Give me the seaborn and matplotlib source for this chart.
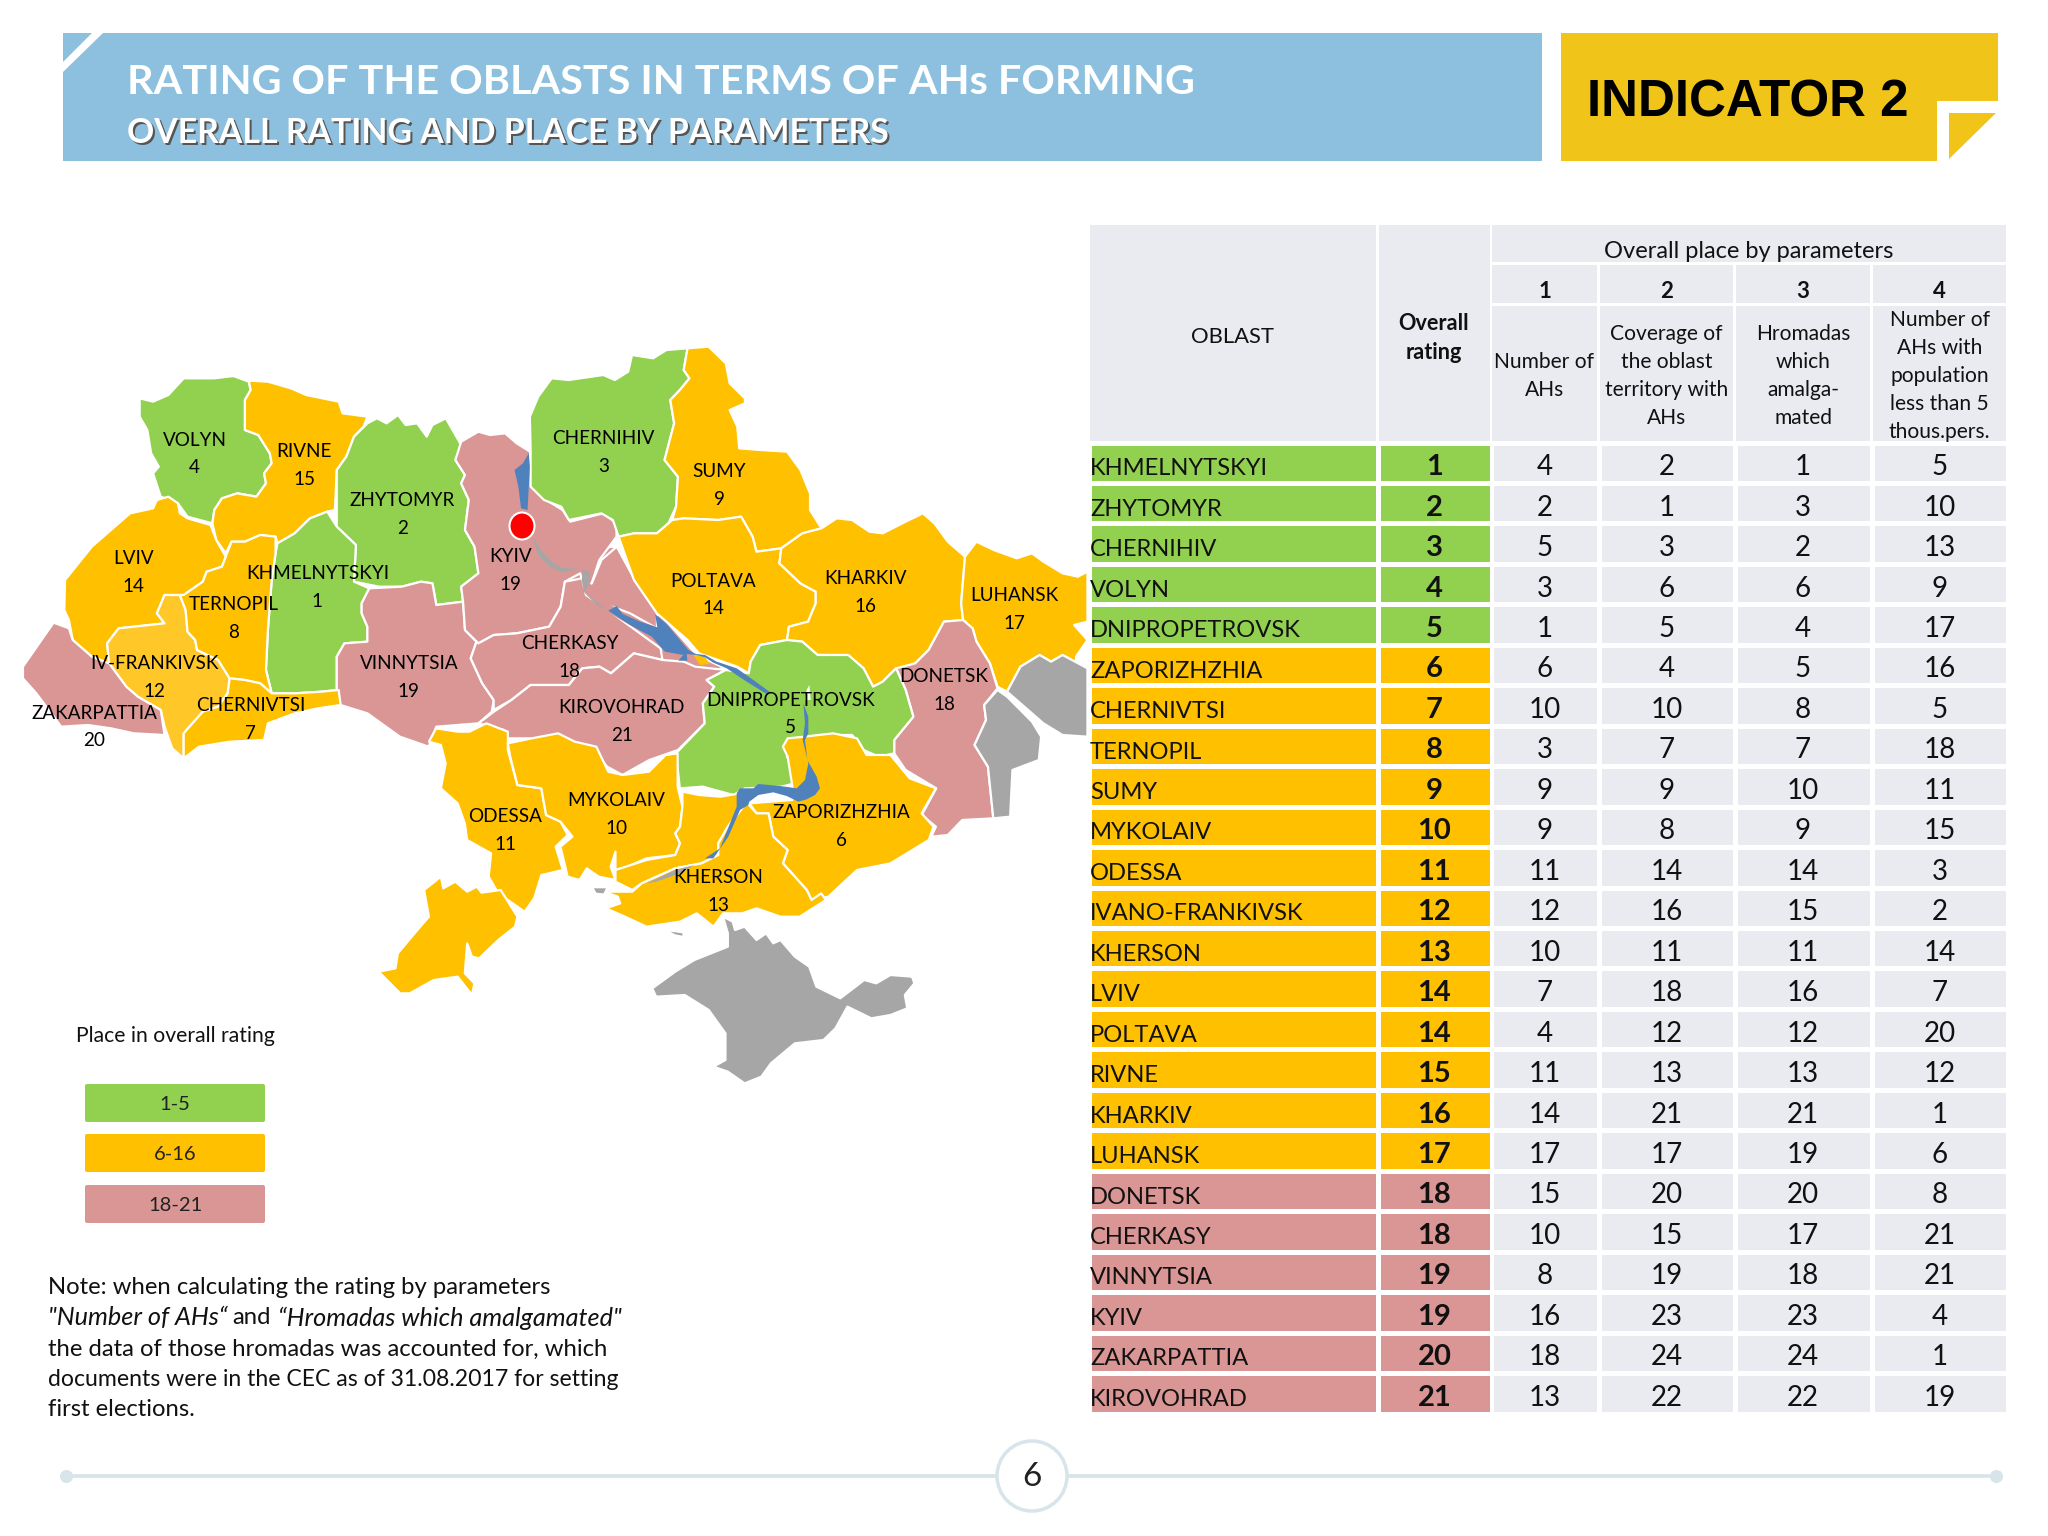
import matplotlib
matplotlib.use("Agg")
import numpy as np
import pandas as pd
import matplotlib.pyplot as plt
import seaborn as sns
from matplotlib.colors import ListedColormap
from matplotlib.patches import Polygon, Rectangle, FancyBboxPatch, Circle, Ellipse

# TABLE DATA
oblasts = ["KHMELNYTSKYI", "ZHYTOMYR", "CHERNIHIV", "VOLYN", "DNIPROPETROVSK", "ZAPORIZHZHIA",
           "CHERNIVTSI", "TERNOPIL", "SUMY", "MYKOLAIV", "ODESSA", "IVANO-FRANKIVSK", "KHERSON",
           "LVIV", "POLTAVA", "RIVNE", "KHARKIV", "LUHANSK", "DONETSK", "CHERKASY", "VINNYTSIA",
           "KYIV", "ZAKARPATTIA", "KIROVOHRAD"]
overall = [1, 2, 3, 4, 5, 6, 7, 8, 9, 10, 11, 12, 13, 14, 14, 15, 16, 17, 18, 18, 19, 19, 20, 21]
param_1 = [4, 2, 5, 3, 1, 6, 10, 3, 9, 9, 11, 12, 10, 7, 4, 11, 14, 17, 15, 10, 8, 16, 18, 13]
param_2 = [2, 1, 3, 6, 5, 4, 10, 7, 9, 8, 14, 16, 11, 18, 12, 13, 21, 17, 20, 15, 19, 23, 24, 22]
param_3 = [1, 3, 2, 6, 4, 5, 8, 7, 10, 9, 14, 15, 11, 16, 12, 13, 21, 19, 20, 17, 18, 23, 24, 22]
param_4 = [5, 10, 13, 9, 17, 16, 5, 18, 11, 15, 3, 2, 14, 7, 20, 12, 1, 6, 8, 21, 21, 4, 1, 19]

# MAP LABELS
map_names = ["VOLYN", "RIVNE", "ZHYTOMYR", "LVIV", "KHMELNYTSKYI", "TERNOPIL", "KYIV", "CHERNIHIV",
             "SUMY", "POLTAVA", "KHARKIV", "LUHANSK", "CHERKASY", "VINNYTSIA", "IV-FRANKIVSK",
             "ZAKARPATTIA", "CHERNIVTSI", "KIROVOHRAD", "DNIPROPETROVSK", "DONETSK", "ODESSA",
             "MYKOLAIV", "ZAPORIZHZHIA", "KHERSON"]
map_places = [4, 15, 2, 14, 1, 8, 19, 3, 9, 14, 16, 17, 18, 19, 12, 20, 7, 21, 5, 18, 11, 10, 6, 13]
map_label_x = [149, 233, 308, 102, 243, 179, 391, 462, 551, 546, 663, 777, 436, 313, 118, 72, 192, 476,
               605, 723, 387, 472, 644, 550]
map_label_y = [337, 346, 383, 428, 439, 463, 426, 336, 361, 445, 443, 456, 493, 508, 508, 546, 540, 542,
               536, 518, 625, 613, 622, 672]

legend_labels = ["1-5", "6-16", "18-21"]

GREEN = "#92D050"
ORANGE = "#FFC000"
PINK = "#D99694"
GREY = "#A6A6A6"
RIVER = "#4F81BD"
CELL = "#E9EBF1"

def crop_a(pts):
    return [(x / 2.613, 320 + y / 3) for x, y in pts]

def crop_b(pts):
    return [(500 + x / 2.613, 320 + y / 3) for x, y in pts]

def crop_c(pts):
    return [(350 + x / 2.0907, 700 + y / 3) for x, y in pts]

def crop_d(pts):
    return [(540 + x / 3, 540 + y / 3) for x, y in pts]

volyn = crop_a([(365,235),(400,245),(440,225),(480,175),(560,175),(610,168),(650,185),(655,210),(640,240),(640,330),(675,345),(705,400),(710,430),(690,460),(695,490),(670,530),(620,520),(580,535),(560,570),(555,610),(490,590),(465,550),(420,530),(400,460),(415,440),(395,400),(385,330),(365,290)])
rivne = crop_a([(650,182),(700,185),(760,205),(800,225),(885,245),(895,280),(960,290),(950,320),(925,350),(905,410),(880,450),(875,570),(855,575),(810,595),(770,640),(725,670),(720,650),(680,645),(640,665),(605,665),(590,700),(565,660),(555,610),(560,570),(580,535),(620,520),(670,530),(695,490),(690,460),(710,430),(705,400),(675,345),(640,330),(640,240),(655,210)])
zhytomyr = crop_a([(960,310),(985,295),(1010,310),(1040,285),(1060,315),(1090,310),(1115,350),(1130,315),(1165,295),(1190,345),(1205,375),(1190,420),(1215,465),(1205,490),(1225,540),(1215,630),(1240,680),(1250,760),(1205,800),(1210,845),(1140,855),(1130,790),(1100,785),(1050,800),(990,800),(925,785),(930,675),(880,620),(880,450),(905,410),(925,350)])
khmelnytskyi = crop_a([(725,670),(770,640),(810,595),(855,575),(880,620),(930,675),(925,785),(965,805),(945,850),(945,880),(960,920),(960,965),(900,970),(880,1010),(880,1110),(840,1115),(770,1120),(710,1120),(695,1050),(700,930),(710,780),(720,700)])
vinnytsia = crop_a([(965,805),(1050,800),(1100,785),(1130,790),(1140,855),(1210,845),(1215,930),(1245,965),(1230,1015),(1260,1090),(1290,1140),(1285,1175),(1250,1210),(1140,1220),(1120,1280),(1045,1250),(960,1180),(890,1155),(880,1110),(880,1010),(900,970),(960,965),(960,920),(945,880),(945,850)])
kyiv = crop_a([(1205,365),(1250,335),(1280,345),(1320,340),(1350,370),(1385,395),(1390,500),(1420,535),(1470,570),(1490,605),(1576,580),(1611,610),(1611,650),(1566,720),(1546,790),(1525,800),(1516,760),(1476,785),(1465,860),(1435,920),(1350,940),(1290,945),(1250,970),(1215,930),(1210,845),(1205,800),(1250,760),(1240,680),(1215,630),(1225,540),(1205,490),(1215,465),(1190,420)])
cherkasy = crop_a([(1250,970),(1290,945),(1350,940),(1435,920),(1465,860),(1476,785),(1521,775),(1531,825),(1576,860),(1600,880),(1726,985),(1731,1020),(1656,1000),(1596,1060),(1566,1040),(1521,1045),(1486,1095),(1386,1095),(1336,1140),(1290,1170),(1290,1140),(1260,1090),(1230,1015),(1245,965)])
cherkasy_east = crop_b([(305,680),(350,775),(410,860),(410,925),(340,880),(270,850),(225,800),(240,790),(265,720)])
lviv = crop_a([(400,565),(410,540),(440,530),(465,550),(470,580),(490,595),(550,615),(565,660),(590,710),(580,740),(540,755),(530,785),(480,825),(430,825),(410,880),(430,910),(310,925),(280,970),(285,1030),(240,1010),(190,960),(180,900),(168,870),(170,780),(240,680),(340,580)])
frankivsk = crop_a([(430,825),(470,825),(485,870),(490,935),(510,960),(515,990),(570,1020),(600,1075),(595,1120),(570,1160),(530,1175),(480,1240),(480,1315),(450,1285),(430,1220),(420,1170),(360,1130),(330,1100),(285,1030),(280,970),(310,925),(430,910),(410,880)])
ternopil = crop_a([(605,665),(640,665),(680,645),(720,650),(720,700),(710,780),(700,930),(695,1050),(710,1120),(680,1090),(640,1080),(600,1075),(570,1020),(515,990),(510,960),(490,935),(485,870),(470,825),(480,825),(530,785),(540,755),(580,740),(590,710)])
chernivtsi = crop_a([(600,1075),(640,1080),(680,1090),(710,1120),(770,1120),(840,1115),(885,1110),(890,1155),(830,1165),(770,1180),(700,1210),(690,1260),(600,1265),(520,1280),(480,1315),(480,1240),(530,1175),(570,1160),(595,1120)])
zakarpattia = crop_a([(140,908),(180,925),(190,960),(240,1010),(285,1030),(330,1100),(360,1130),(420,1170),(430,1245),(350,1240),(290,1225),(230,1215),(160,1220),(95,1120),(60,1075),(60,1040)])
kirovohrad = crop_b([(-16,1175),(30,1140),(80,1095),(180,1095),(215,1045),(260,1040),(290,1060),(350,1000),(425,1020),(480,1025),(510,1040),(590,1050),(540,1080),(560,1100),(530,1150),(535,1210),(465,1290),(390,1320),(320,1365),(280,1340),(250,1300),(180,1270),(130,1265),(75,1255),(20,1255),(10,1230),(-56,1210)])
chernihiv = crop_b([(80,390),(78,290),(100,230),(135,175),(180,180),(270,165),(300,180),(335,155),(345,105),(400,115),(435,90),(490,85),(480,150),(495,175),(470,210),(445,240),(455,310),(430,420),(465,470),(460,560),(440,610),(410,640),(350,640),(310,650),(295,600),(265,580),(180,600),(160,560),(115,540),(80,500)])
sumy = crop_b([(490,85),(545,80),(590,130),(600,190),(640,235),(640,250),(600,270),(620,320),(625,385),(680,390),(750,395),(785,450),(810,520),(810,570),(840,625),(790,640),(735,685),(670,695),(660,650),(630,590),(570,600),(480,595),(450,600),(460,560),(465,470),(430,420),(455,310),(445,240),(470,210),(495,175),(480,150)])
poltava = crop_b([(310,650),(350,640),(410,640),(440,610),(450,600),(480,595),(570,600),(630,590),(660,650),(670,695),(735,685),(730,730),(785,790),(825,815),(825,850),(805,905),(755,920),(750,960),(680,975),(655,1025),(650,1060),(620,1040),(520,1000),(490,960),(410,880),(350,780)])
kharkiv = crop_b([(735,685),(790,640),(840,625),(880,595),(920,600),(965,635),(1000,640),(1060,605),(1105,580),(1135,610),(1170,665),(1215,710),(1205,850),(1210,900),(1160,905),(1120,990),(1085,1030),(1030,1050),(1000,1085),(975,1100),(950,1045),(910,1005),(830,1005),(790,965),(750,960),(755,920),(805,905),(825,850),(825,815),(785,790),(730,730)])
luhansk = crop_b([(1215,710),(1245,665),(1290,690),(1350,715),(1390,700),(1420,725),(1470,760),(1510,770),(1535,755),(1535,905),(1500,915),(1535,960),(1505,1010),(1505,1030),(1535,1045),(1470,1005),(1440,1025),(1410,1005),(1360,1040),(1325,1115),(1300,1100),(1280,1030),(1245,965),(1235,925),(1210,900),(1205,850)])
luhansk_occupied = crop_b([(1535,1045),(1470,1005),(1440,1025),(1410,1005),(1360,1040),(1325,1115),(1420,1210),(1470,1245),(1535,1250)])
donetsk_occupied = crop_b([(1300,1110),(1265,1155),(1270,1200),(1240,1275),(1275,1340),(1289,1495),(1333,1490),(1339,1350),(1408,1320),(1414,1250),(1390,1205),(1325,1130)])
donetsk = crop_b([(1160,905),(1210,900),(1235,925),(1245,965),(1280,1030),(1300,1105),(1265,1155),(1270,1200),(1240,1275),(1275,1340),(1289,1495),(1208,1500),(1170,1545),(1127,1550),(1139,1520),(1102,1485),(1140,1405),(1060,1350),(1030,1300),(1030,1260),(1080,1190),(1060,1110),(1035,1045),(1085,1030),(1120,990)])
dnipro = crop_b([(650,1060),(655,1025),(680,975),(750,960),(790,965),(830,1005),(910,1005),(950,1045),(975,1100),(1000,1085),(1035,1045),(1060,1110),(1080,1190),(1030,1260),(1030,1300),(990,1310),(950,1290),(920,1245),(830,1245),(750,1270),(750,1310),(770,1350),(770,1390),(735,1400),(640,1405),(610,1425),(530,1400),(470,1405),(460,1300),(535,1210),(530,1150),(560,1100),(540,1080),(590,1050)])
zaporizhzhia = crop_c([(915,115),(950,110),(1010,100),(1060,115),(1080,165),(1130,165),(1170,235),(1225,265),(1195,340),(1220,380),(1210,420),(1130,490),(1060,510),(1000,590),(965,600),(955,570),(905,490),(915,450),(885,410),(875,340),(850,340),(835,310),(925,300),(925,260),(915,170),(905,140)])
odessa = crop_c([(180,85),(225,95),(250,95),(285,70),(330,95),(330,150),(350,255),(400,265),(410,345),(440,365),(455,405),(430,440),(445,510),(400,525),(385,595),(365,635),(310,580),(290,530),(295,460),(245,420),(240,370),(225,310),(190,265),(200,190),(190,135),(165,125)])
bessarabia = crop_c([(190,530),(195,565),(220,545),(245,575),(265,560),(275,578),(315,570),(350,650),(345,680),(310,720),(270,775),(255,770),(245,730),(240,820),(260,850),(255,885),(225,830),(175,840),(125,880),(105,880),(60,815),(95,805),(100,760),(135,700),(165,650),(155,570)])
mykolaiv = crop_c([(330,130),(380,115),(435,100),(470,125),(515,140),(540,215),(570,225),(625,215),(660,165),(685,160),(685,260),(695,320),(690,380),(680,400),(690,430),(680,465),(620,475),(580,500),(555,510),(555,455),(545,500),(555,540),(520,530),(495,505),(480,540),(455,530),(440,440),(465,410),(440,365),(410,345),(400,265),(350,255),(335,170)])
kherson_west = crop_c([(695,275),(730,285),(775,290),(815,280),(825,310),(790,380),(770,430),(770,465),(735,490),(680,505),(610,550),(590,570),(555,545),(555,510),(620,480),(680,465),(690,430),(680,400),(690,380),(695,320)])
kherson_east = crop_c([(825,300),(850,340),(875,340),(885,410),(915,450),(905,490),(955,570),(965,600),(985,580),(995,600),(940,650),(900,650),(850,625),(820,640),(780,640),(760,680),(725,640),(690,665),(620,680),(575,650),(535,625),(565,610),(560,590),(530,575),(590,575),(610,550),(680,505),(735,490),(770,465),(770,430),(790,380),(820,325)])
crimea = crop_c([(780,650),(800,665),(805,690),(825,680),(850,720),(870,700),(885,730),(900,720),(930,770),(960,800),(975,860),(1025,895),(1075,840),(1100,850),(1130,825),(1175,830),(1180,850),(1160,885),(1165,925),(1130,945),(1090,955),(1040,920),(1015,985),(990,1020),(930,1030),(880,1090),(860,1130),(825,1150),(790,1115),(760,1100),(785,1080),(785,1000),(750,930),(700,885),(640,890),(632,865),(680,815),(720,780),(790,740),(790,700)])

# pink ground under the Dnipro banks so no white gap shows beside the river
central_ground = crop_d([(0,30),(230,20),(350,210),(470,345),(555,385),(440,400),(300,340),(150,200)])

regions = [(central_ground, PINK), (volyn, GREEN), (rivne, ORANGE), (zhytomyr, GREEN), (khmelnytskyi, GREEN), (vinnytsia, PINK),
           (kyiv, PINK), (cherkasy, PINK), (cherkasy_east, PINK), (lviv, ORANGE), (frankivsk, "#FFC727"),
           (ternopil, ORANGE), (chernivtsi, ORANGE), (zakarpattia, PINK), (kirovohrad, PINK),
           (chernihiv, GREEN), (sumy, ORANGE), (poltava, ORANGE), (kharkiv, ORANGE), (luhansk, ORANGE),
           (luhansk_occupied, GREY), (donetsk, PINK), (donetsk_occupied, GREY), (dnipro, GREEN),
           (zaporizhzhia, ORANGE), (odessa, ORANGE), (bessarabia, ORANGE), (mykolaiv, ORANGE),
           (kherson_west, ORANGE), (kherson_east, ORANGE), (crimea, GREY)]

rivers = [(crop_d([(125,150),(200,215),(330,290),(375,335),(350,262),(270,230),(190,180),(150,130)]), PINK),
          (crop_b([(75,400),(78,440),(72,570),(55,565),(48,500),(38,450),(60,430)]), RIVER),
          (crop_d([(0,30),(40,70),(70,85),(115,85),(70,98),(30,80),(0,50)]), GREY),
          (crop_b([(85,650),(110,695),(130,720),(100,705)]), GREY),
          (crop_d([(130,88),(150,95),(150,130),(132,155),(125,120)]), GREY),
          (crop_d([(130,155),(170,185),(192,205),(188,208),(165,190)]), GREY),
          (crop_d([(460,345),(490,345),(510,372),(480,375)]), ORANGE),
          (crop_d([(205,212),(230,198),(248,222),(300,245),(352,262),(345,222),(378,250),(445,330),(468,342),(495,345),(530,365),(590,385),(640,420),(695,460),(680,462),(620,425),(560,385),(520,368),(495,352),(470,345),(440,342),(442,362),(415,362),(430,345),(375,335),(335,290),(270,255)]), RIVER),
          (crop_d([(800,450),(808,435),(812,480),(795,480)]), "white"),
          (crop_d([(790,490),(805,530),(805,580),(795,600),(802,660),(830,710),(840,745),(825,765),(800,778),(775,785),(740,768),(700,757),(655,765),(628,785),(625,795),(600,810),(565,890),(520,955),(495,955),(540,925),(590,800),(590,760),(600,745),(640,745),(655,732),(720,738),(770,745),(795,720),(805,670),(788,600),(795,550)]), RIVER),
          (crop_c([(620,550),(680,510),(720,495),(690,520),(640,545)]), GREY),
          (crop_c([(510,565),(535,565),(530,580),(515,578)]), GREY),
          (crop_c([(670,695),(695,700),(695,707),(680,703)]), GREY)]

sns.set_theme(style="white")
plt.rcParams["font.family"] = ["Lato", "DejaVu Sans"]

W, H = 2048, 1536
DISP = 1.306
fig = plt.figure(figsize=(W / 100, H / 100), dpi=100, facecolor="white")

page = fig.add_axes([0, 0, 1, 1])
page.set_xlim(0, W)
page.set_ylim(H, 0)
page.set_axis_off()

# HEADER
page.add_patch(Rectangle((63, 33), 1479, 128, fc="#8CC0DE", ec="none"))
page.add_patch(Polygon([(92, 33), (103, 33), (63, 72), (63, 62)], fc="white", ec="none"))
page.add_patch(Polygon([(1561, 33), (1998, 33), (1998, 101), (1937, 101), (1937, 161), (1561, 161)], fc="#F0C419", ec="none"))
page.add_patch(Polygon([(1949, 113), (1996, 113), (1949, 159)], fc="#F0C419", ec="none"))
page.text(127, 82, "RATING OF THE OBLASTS IN TERMS OF AHs FORMING", color="white", fontsize=29.8,
          fontweight="bold", va="center", ha="left")
page.text(129, 135, "OVERALL RATING AND PLACE BY PARAMETERS", color="#555555", fontsize=24.3,
          fontweight="bold", va="center", ha="left")
page.text(127, 133, "OVERALL RATING AND PLACE BY PARAMETERS", color="white", fontsize=24.3,
          fontweight="bold", va="center", ha="left")
page.text(1587, 103, "INDICATOR 2", color="black", fontsize=36.8, fontweight="bold",
          family="Liberation Sans", va="center", ha="left")

# MAP
for outline, colour in regions:
    page.add_patch(Polygon(outline, fc=colour, ec="white", lw=1.6, joinstyle="round"))
for outline, colour in rivers:
    page.add_patch(Polygon(outline, fc=colour, ec="none"))
page.add_patch(Ellipse((522, 526), 25, 27, fc="#FF0000", ec="white", lw=1.5, zorder=4))

for name, place, lx, ly in zip(map_names, map_places, map_label_x, map_label_y):
    page.text(lx * DISP, ly * DISP, name, fontsize=13.6, color="black", ha="center", va="center", zorder=5)
    page.text(lx * DISP, (ly + 21.3) * DISP, str(place), fontsize=13.6, color="black", ha="center", va="center", zorder=5)

# LEGEND
page.text(76, 1036, "Place in overall rating", fontsize=15.2, color="#111111", va="center", ha="left")
for top, label, colour in zip([1084, 1134, 1185], legend_labels, [GREEN, ORANGE, PINK]):
    page.add_patch(FancyBboxPatch((85, top), 180, 38, boxstyle="round,pad=0,rounding_size=2", fc=colour, ec="none"))
    page.text(175, top + 20.5, label, fontsize=14.5, color="#222222", ha="center", va="center")

# NOTE
note_y = [1287, 1318, 1349, 1380, 1410]
note_sizes = [17.2, 17.2, 17.2, 16.6, 17.2]
note_lines = ["Note: when calculating the rating by parameters", None,
              "the data of those hromadas was accounted for, which",
              "documents were in the CEC as of 31.08.2017 for setting",
              "first elections."]
for y, line, size in zip(note_y, note_lines, note_sizes):
    if line is not None:
        page.text(48, y, line, fontsize=size, color="#111111", va="center", ha="left")

for x, piece, style, size in [(48, "\"Number of AHs“", "italic", 18.2), (232, "and", "normal", 17.2),
                              (278, "“Hromadas which amalgamated\"", "italic", 18.2)]:
    page.text(x, note_y[1], piece, fontsize=size, color="#111111", style=style, va="center", ha="left")

# FOOTER
page.plot([66, 1996], [1476, 1476], color="#D7E4EA", lw=2.6, solid_capstyle="round")
page.scatter([66, 1996], [1476, 1476], s=70, color="#D7E4EA", zorder=2)
page.add_patch(Circle((1032, 1476), 35, fc="white", ec="#D7E4EA", lw=2.5, zorder=3))
page.text(1032, 1477, "6", fontsize=24, color="#222222", ha="center", va="center", zorder=4)

# TABLE HEADER CELLS
col_left = [1090, 1379, 1492, 1600, 1736, 1873]
col_right = [1376, 1490, 1597, 1733, 1870, 2006]

def head_cell(x0, x1, y0, y1):
    page.add_patch(Rectangle((x0, y0), x1 - x0, y1 - y0, fc=CELL, ec="none"))

head_cell(col_left[0], col_right[0], 225, 441)
head_cell(col_left[1], col_right[1], 225, 441)
head_cell(col_left[2], col_right[5], 225, 262)
for c in range(2, 6):
    head_cell(col_left[c], col_right[c], 265, 303)
    head_cell(col_left[c], col_right[c], 306, 441)

page.text(1233, 337, "OBLAST", fontsize=15.8, color="#111111", ha="center", va="center")
page.text(1434, 338, "Overall\nrating", fontsize=15.6, fontweight="bold", color="#111111", ha="center",
          va="center", linespacing=1.45)
page.text(1749, 252, "Overall place by parameters", fontsize=17, color="#111111", ha="center", va="center")
param_heads = ["Number of\nAHs", "Coverage of\nthe oblast\nterritory with\nAHs", "Hromadas\nwhich\namalga-\nmated",
               "Number of\nAHs with\npopulation\nless than 5\nthous.pers."]
for c, (num, head) in enumerate(zip(["1", "2", "3", "4"], param_heads)):
    xc = (col_left[c + 2] + col_right[c + 2]) / 2
    page.text(xc, 291, num, fontsize=16, fontweight="bold", color="#111111", ha="center", va="center")
    page.text(xc, 376, head, fontsize=15.1, color="#111111", ha="center", va="center", linespacing=1.5)

# TABLE BODY, one heatmap per column because the column widths differ
TOP, BOTTOM = 444, 1412
GAP = 1.5

def column_axes(c):
    x0, x1 = col_left[c] - GAP, col_right[c] + GAP
    y0, y1 = TOP - GAP, BOTTOM + GAP
    ax = fig.add_axes([x0 / W, 1 - y1 / H, (x1 - x0) / W, (y1 - y0) / H])
    ax.patch.set_alpha(0)
    return ax

tier = np.array([[0 if r <= 5 else 1 if r <= 17 else 2] for r in overall])
tier_cmap = ListedColormap([GREEN, ORANGE, PINK])

ax = column_axes(0)
sns.heatmap(tier, ax=ax, cmap=tier_cmap, vmin=0, vmax=2, cbar=False, xticklabels=False, yticklabels=False,
            linewidths=2.2, linecolor="white")
for i, name in enumerate(oblasts):
    ax.text(0.005, i + 0.65, name, fontsize=17.1, color="#111111", va="center", ha="left")

ax = column_axes(1)
sns.heatmap(tier, ax=ax, cmap=tier_cmap, vmin=0, vmax=2, cbar=False, xticklabels=False, yticklabels=False,
            annot=np.array(overall).reshape(-1, 1), fmt="d", linewidths=2.2, linecolor="white",
            annot_kws={"fontsize": 21, "fontweight": "bold", "color": "#111111"})
for t in ax.texts:
    t.set_y(t.get_position()[1] + 0.11)

table_df = pd.DataFrame({"p1": param_1, "p2": param_2, "p3": param_3, "p4": param_4}, index=oblasts)
for c, col in enumerate(table_df.columns):
    ax = column_axes(c + 2)
    sns.heatmap(table_df[[col]], ax=ax, cmap=ListedColormap([CELL]), cbar=False, xticklabels=False,
                yticklabels=False, annot=True, fmt="d", linewidths=2.2, linecolor="white",
                annot_kws={"fontsize": 20, "color": "#111111"})
    ax.set_xlabel("")
    ax.set_ylabel("")
    for t in ax.texts:
        t.set_y(t.get_position()[1] + 0.11)

plt.savefig("out.png", dpi=100)
